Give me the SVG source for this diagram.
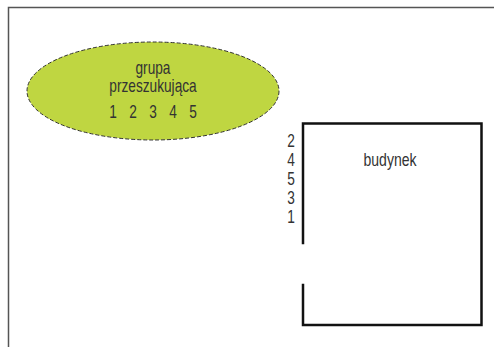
<svg xmlns="http://www.w3.org/2000/svg" width="494" height="347" viewBox="0 0 494 347">
<style>
.t{font-family:"Liberation Sans",Arial,sans-serif;font-size:18px;fill:#333;text-anchor:middle;}
.wall{fill:none;stroke:#111;stroke-width:2.5;stroke-linecap:square;}
</style>
<rect width="494" height="347" fill="#fff"/>
<g id="frame">
<path d="M8.5,347 V7.5 H494" fill="none" stroke="#555" stroke-width="1.5"/>
</g>
<g id="grupa">
<ellipse cx="153" cy="91" rx="126" ry="49" fill="#bfd641" stroke="#333" stroke-width="1" stroke-dasharray="4 2"/>
<text class="t" transform="translate(153 73.5) scale(0.76 1)">grupa</text>
<text class="t" transform="translate(153 91.5) scale(0.76 1)">przeszukująca</text>
<text class="t" transform="translate(153 118) scale(0.76 1)" x="-52.6 -26.3 0 26.3 52.6">12345</text>
</g>
<g id="budynek">
<path class="wall" d="M303,243 V123.5 H481.5 V325 H303 V285"/>
<text class="t" transform="translate(390 166) scale(0.78 1)">budynek</text>
<text class="t" transform="translate(291 146.5) scale(0.76 1)">2</text>
<text class="t" transform="translate(291 165.5) scale(0.76 1)">4</text>
<text class="t" transform="translate(291 184.7) scale(0.76 1)">5</text>
<text class="t" transform="translate(291 204) scale(0.76 1)">3</text>
<text class="t" transform="translate(291 223) scale(0.76 1)">1</text>
</g>
</svg>
